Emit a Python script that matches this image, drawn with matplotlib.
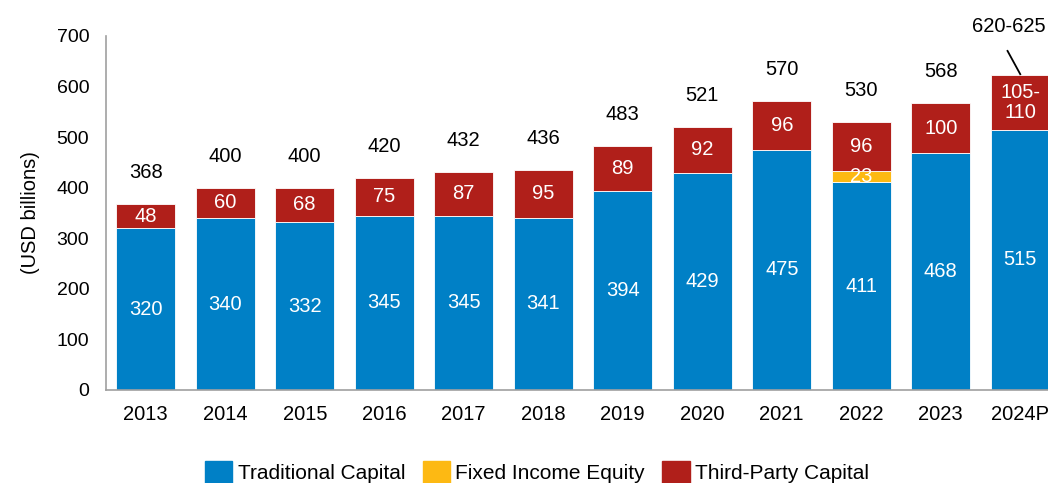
import numpy as np
import matplotlib.pyplot as plt
from matplotlib.patches import Patch

plt.rcParams['font.family'] = ['Liberation Sans', 'DejaVu Sans']

years = ['2013', '2014', '2015', '2016', '2017', '2018', '2019', '2020',
         '2021', '2022', '2023', '2024P']
traditional = [320, 340, 332, 345, 345, 341, 394, 429, 475, 411, 468, 515]
fixed_income = [0, 0, 0, 0, 0, 0, 0, 0, 0, 23, 0, 0]
third_party = [48, 60, 68, 75, 87, 95, 89, 92, 96, 96, 100, 107.5]
third_labels = ['48', '60', '68', '75', '87', '95', '89', '92', '96', '96', '100', '105-\n110']
total_labels = ['368', '400', '400', '420', '432', '436', '483', '521', '570', '530', '568', '620-625']

c_blue = '#0080C6'
c_yellow = '#FDB913'
c_red = '#B01F1A'

W, H = 1048, 483
fig = plt.figure(figsize=(W / 100, H / 100), dpi=100)
ax = fig.add_axes([106 / W, (H - 390) / H, 954 / W, 354 / H])

x = np.arange(len(years))
trad = np.array(traditional, dtype=float)
fi = np.array(fixed_income, dtype=float)
tp = np.array(third_party, dtype=float)

bw = 0.74
ax.bar(x, trad, bw, color=c_blue, edgecolor='white', linewidth=0.6)
ax.bar(x, fi, bw, bottom=trad, color=c_yellow, edgecolor='white', linewidth=0.6)
ax.bar(x, tp, bw, bottom=trad + fi, color=c_red, edgecolor='white', linewidth=0.6)

fs = 14.5
for i in x:
    ax.text(i, trad[i] / 2, str(traditional[i]), ha='center', va='center',
            color='white', fontsize=fs)
    if fi[i] > 0:
        ax.text(i, trad[i] + fi[i] / 2, str(fixed_income[i]), ha='center',
                va='center', color='white', fontsize=fs)
    ax.text(i, trad[i] + fi[i] + tp[i] / 2, third_labels[i], ha='center',
            va='center', color='white', fontsize=fs, linespacing=1.05)
    top = trad[i] + fi[i] + tp[i]
    if i < len(years) - 1:
        ax.text(i, top + 62, total_labels[i], ha='center', va='center',
                color='black', fontsize=fs)

# last year: label with a leader line
last = len(years) - 1
top_last = trad[last] + fi[last] + tp[last]
ax.plot([last - 0.16, last], [top_last + 48, top_last + 2], color='black',
        lw=1.3, clip_on=False)
ax.text(last - 0.15, top_last + 96, total_labels[last], ha='center', va='center',
        fontsize=fs, clip_on=False)

ax.set_xlim(-0.5, 11.5)
ax.set_ylim(0, 700)
ax.set_yticks(range(0, 701, 100))
ax.set_xticks(x)
ax.set_xticklabels(years)
ax.tick_params(axis='both', length=0, labelsize=14)
ax.tick_params(axis='x', pad=11, labelsize=14.5)
ax.tick_params(axis='y', pad=12)
for s in ['top', 'right']:
    ax.spines[s].set_visible(False)
for s in ['left', 'bottom']:
    ax.spines[s].set_color('#A0A0A0')
    ax.spines[s].set_linewidth(1.2)
ax.set_ylabel('(USD billions)', fontsize=14.5, labelpad=12)

handles = [Patch(color=c_blue, label='Traditional Capital'),
           Patch(color=c_yellow, label='Fixed Income Equity'),
           Patch(color=c_red, label='Third-Party Capital')]
fig.legend(handles=handles, loc='center', bbox_to_anchor=(537 / W, (H - 472) / H),
           ncol=3, frameon=False, fontsize=15, handlelength=1.3, handleheight=1.3,
           handletextpad=0.25, columnspacing=0.85, borderaxespad=0)

fig.savefig('out.png', dpi=100)
